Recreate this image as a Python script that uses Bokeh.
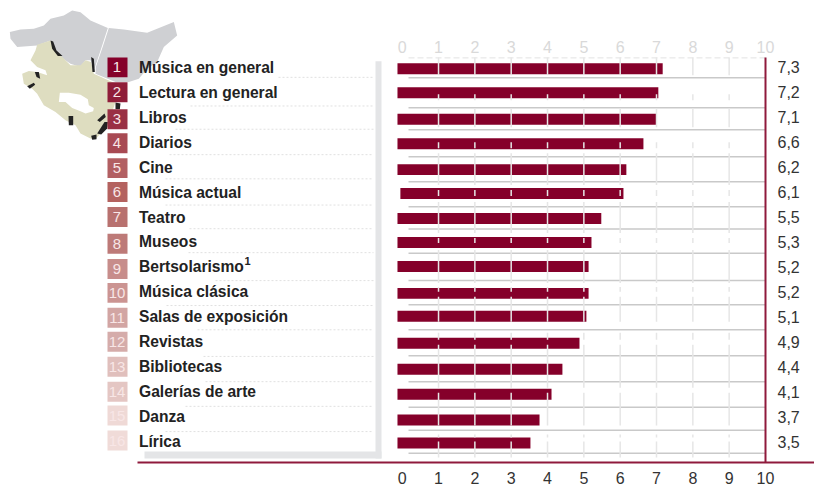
from bokeh.plotting import figure
from bokeh.models import LinearAxis, FixedTicker, ColumnDataSource
from bokeh.core.properties import value
from bokeh.embed import file_html
from bokeh.resources import INLINE

# ---- data ----
categories = ["Música en general", "Lectura en general", "Libros", "Diarios", "Cine",
              "Música actual", "Teatro", "Museos", "Bertsolarismo", "Música clásica",
              "Salas de exposición", "Revistas", "Bibliotecas", "Galerías de arte",
              "Danza", "Lírica"]
printed_scores = [7.3, 7.2, 7.1, 6.6, 6.2, 6.1, 5.5, 5.3, 5.2, 5.2, 5.1, 4.9, 4.4, 4.1, 3.7, 3.5]
# where each bar ends on the 0-10 axis, as drawn
bar_ends = [7.17, 7.05, 7.00, 6.64, 6.17, 6.09, 5.48, 5.21, 5.13, 5.13, 5.07, 4.88, 4.41, 4.11, 3.78, 3.53]
bar_starts = [-0.13, -0.13, -0.13, -0.13, -0.13, -0.05, -0.13, -0.13, -0.13, -0.13, -0.13, -0.13, -0.13, -0.13, -0.13, -0.13]
ranks = list(range(1, 17))
tick_values = list(range(0, 11))

# ---- layout / style ----
X0, XU = 401.7, 36.33      # pixel of axis 0, pixels per unit
Y0, YU = 42.0, 25.0        # pixel of rank 0, pixels per rank
def X(px): return (px - X0) / XU
def Y(py): return (py - Y0) / YU

bar_centres = [68.5, 92.5, 119, 143.5, 169.5, 193.5, 218.5, 242.5, 266.5, 293.5, 316.5, 343.5, 369.5, 394.5, 420.5, 443.5]
box_centres = [67, 92, 119, 143, 168, 192, 217, 243.7, 269, 293, 318, 342, 367, 392, 416, 441]
rule_rows = [77.5, 107.5, 129.5, 156.7, 181.7, 206.7, 229, 253.3, 280.7, 305, 330, 356, 382, 407.7, 430.7, 453.7]
dot_rows = [(278, 77), (190, 105.7), (175, 129), (169, 154.5), (165, 178.7), (165, 205), (189, 228.7),
            (188, 252.7), (215, 280.7), (166, 305.7), (197, 330), (203, 356.7), (205, 382), (185, 406.7), (165, 432)]
grid_spans = [(57, 75), (94, 100), (108, 127), (142, 148), (153, 185), (190, 196), (202, 233), (238, 243),
              (250, 283), (287, 292), (297, 322), (333, 340), (345, 388), (393, 426), (435, 438), (442, 458)]
box_colors = ["#85002a", "#8f1d39", "#9a3044", "#a84a53", "#b25f62", "#b4625f", "#b8716f", "#bd7a78",
              "#c78d8b", "#cb9492", "#d2a5a3", "#d5acaa", "#e0bfbc", "#e4c6c3", "#efd9d6", "#f0dbd8"]
CRIMSON = "#85002a"
DEEP = "#8f1a3c"
FONT = value("Liberation Sans")

p = figure(width=814, height=486, output_backend="svg", toolbar_location=None,
           x_range=(X(0), X(814)), y_range=(Y(463), Y(0)),
           x_axis_type=None, y_axis_type=None, min_border=0)
p.outline_line_color = None
p.grid.visible = False
p.background_fill_color = "white"

# ---- map (decorative, traced in pixels at 3x) ----
def poly(pts):
    return [X(a / 3) for a, b in pts], [Y(5 + b / 3) for a, b in pts]

grey_left = [(28, 80), (60, 72), (100, 70), (130, 60), (150, 40), (190, 30), (215, 15), (240, 20), (270, 45),
             (322, 68), (305, 120), (282, 190), (270, 165), (255, 165), (240, 185), (210, 175), (180, 155),
             (160, 135), (150, 105), (110, 120), (50, 125), (30, 100)]
grey_right = [(325, 68), (370, 72), (440, 82), (520, 50), (530, 90), (490, 125), (470, 170), (440, 190),
              (415, 220), (385, 230), (345, 230), (285, 205), (286, 185), (308, 120)]
beige = [(110, 118), (150, 105), (165, 140), (185, 155), (210, 180), (240, 180), (255, 165), (272, 170),
         (280, 205), (340, 232), (345, 290), (335, 320), (322, 345), (322, 365), (300, 385), (285, 402),
         (270, 400), (240, 385), (225, 360), (195, 345), (165, 320), (130, 300), (110, 265), (95, 250),
         (70, 235), (65, 205), (85, 197), (110, 200), (140, 210), (135, 195), (110, 185), (90, 165), (105, 135)]
hole = [(178, 262), (205, 262), (240, 268), (262, 282), (265, 300), (280, 308), (278, 318), (255, 325),
        (240, 318), (215, 308), (195, 290), (175, 290)]
blacks = [[(150, 105), (158, 108), (168, 135), (186, 152), (172, 152), (155, 130)],
          [(272, 155), (280, 160), (283, 200), (276, 200)],
          [(103, 200), (115, 200), (119, 220), (108, 215)],
          [(80, 243), (100, 232), (104, 238), (88, 250)],
          [(204, 332), (218, 332), (218, 360), (205, 360)],
          [(290, 345), (312, 325), (316, 335), (298, 350)],
          [(345, 292), (360, 295), (358, 312), (345, 312)],
          [(290, 385), (312, 350), (322, 350), (320, 370), (302, 388)],
          [(272, 392), (288, 388), (288, 402), (275, 404)]]
for pts, col in ((grey_left, "#cfd0d3"), (grey_right, "#cfd0d3"), (beige, "#deddc0"), (hole, "#ffffff")):
    xs, ys = poly(pts)
    p.patch(xs, ys, fill_color=col, line_color=None)
for pts in blacks:
    xs, ys = poly(pts)
    p.patch(xs, ys, fill_color="#222222", line_color=None)

# ---- grey L behind the labels ----
p.quad(left=[X(375), X(144)], right=[X(381), X(381)], top=[Y(61), Y(452)], bottom=[Y(459), Y(459)],
       fill_color="#e4e5e7", line_color=None)

# ---- dotted separators ----
p.segment(x0=[X(a) for a, b in dot_rows], x1=[X(373)] * len(dot_rows),
          y0=[Y(b) for a, b in dot_rows], y1=[Y(b) for a, b in dot_rows],
          line_color="#e0e0e0", line_width=1, line_dash="2 2")

# ---- horizontal rules ----
p.segment(x0=[X(408)] * 16, x1=[10] * 16, y0=[Y(v) for v in rule_rows], y1=[Y(v) for v in rule_rows],
          line_color="#c9c9c9", line_width=1.5)
p.segment(x0=[X(408)], x1=[10], y0=[Y(57.5)], y1=[Y(57.5)], line_color="#e2e2e2", line_width=1, line_dash="6 3")

# ---- bars ----
src = ColumnDataSource(dict(y=[Y(c) for c in bar_centres], left=bar_starts, right=bar_ends))
p.hbar(y="y", left="left", right="right", height=11 / YU, source=src, fill_color=CRIMSON, line_color=None)

# ---- vertical grid, over the bars ----
gx, gy0, gy1 = [], [], []
for t in tick_values[1:-1]:
    for a, b in grid_spans:
        gx.append(t); gy0.append(Y(a)); gy1.append(Y(b))
p.segment(x0=gx, x1=gx, y0=gy0, y1=gy1, line_color="#e6e6e6", line_width=1.5)

# ---- rank boxes ----
p.rect(x=[X(117)] * 16, y=[Y(c) for c in box_centres], width=20 / XU, height=20 / YU,
       fill_color=box_colors, line_color=None)
p.text(x=[X(116.5)] * 16, y=[Y(c) for c in box_centres], text=[str(r) for r in ranks],
       text_font=FONT, text_font_size="15px", text_color="#f8e6e6", text_align="center", text_baseline="middle")

# ---- category labels and printed scores ----
p.text(x=[X(138.5)] * 16, y=ranks, text=categories, text_font=FONT, text_font_style="bold",
       text_font_size="15.6px", text_color="#222222", text_align="left", text_baseline="middle")
p.text(x=[X(244)], y=[Y(261)], text=["1"], text_font=FONT, text_font_style="bold", text_font_size="11px",
       text_color="#222222", text_align="left", text_baseline="middle")
p.text(x=[X(777)] * 16, y=ranks, text=[f"{v:.1f}".replace(".", ",") for v in printed_scores], text_font=FONT,
       text_font_size="16px", text_color="#333333", text_align="left", text_baseline="middle")

# ---- top scale, in pale grey ----
p.text(x=tick_values, y=[Y(47)] * 11, text=[str(t) for t in tick_values], text_font=FONT, text_font_size="16px",
       text_color="#d9d9d9", text_align="center", text_baseline="middle")

# ---- right-hand axis line ----
p.segment(x0=[10], x1=[10], y0=[Y(57)], y1=[Y(463)], line_color=DEEP, line_width=2)

# ---- bottom axis ----
ax = LinearAxis(ticker=FixedTicker(ticks=tick_values), bounds=(X(137), X(814)))
ax.axis_line_color = DEEP
ax.axis_line_width = 2
ax.major_tick_line_color = None
ax.minor_tick_line_color = None
ax.major_tick_in = 0
ax.major_tick_out = 0
ax.major_label_standoff = 9
ax.major_label_text_font = "Liberation Sans"
ax.major_label_text_font_size = "16px"
ax.major_label_text_color = "#333333"
p.add_layout(ax, "below")

open("out.html", "w").write(file_html(p, INLINE))
